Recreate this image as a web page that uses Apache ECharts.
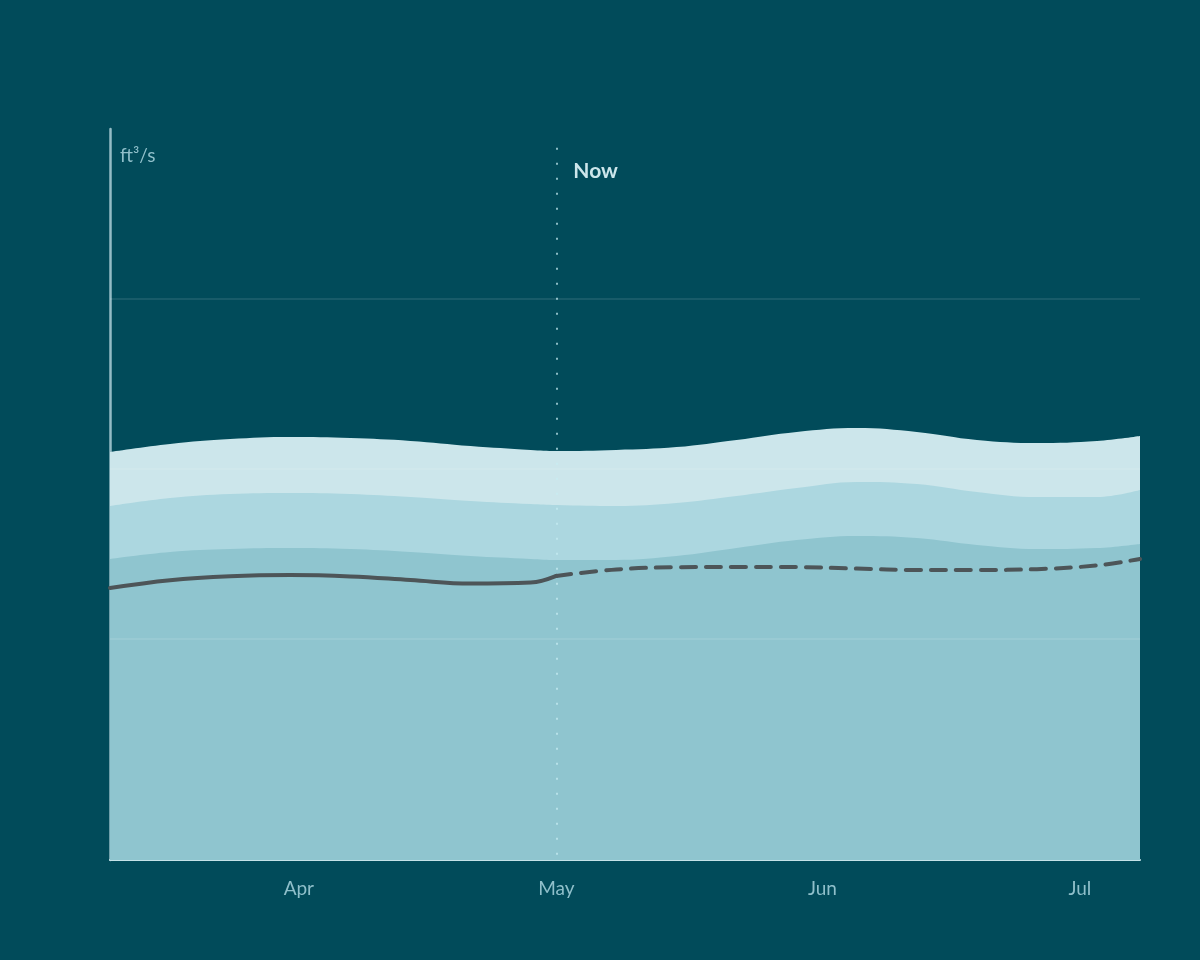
<!DOCTYPE html>
<html>
<head>
<meta charset="utf-8">
<style>
html,body{margin:0;padding:0;background:#014b5a;}
#chart{width:1200px;height:960px;}
</style>
<script src="https://cdn.jsdelivr.net/npm/echarts@6/dist/echarts.min.js"></script>
</head>
<body>
<div id="chart"></div>
<script>
// ---- data ----
const dates = ['2023-03-10','2023-03-17','2023-03-24','2023-03-31','2023-04-07','2023-04-14','2023-04-21','2023-04-28','2023-05-01','2023-05-08','2023-05-15','2023-05-22','2023-05-29','2023-06-05','2023-06-12','2023-06-19','2023-06-26','2023-07-03','2023-07-08'];
const upperBand = [310.0,314.7,317.6,318.8,318.2,316.5,313.5,311.2,310.6,311.2,312.9,317.1,321.8,324.1,321.8,317.1,315.3,316.5,319.4];
const middleBand = [278.2,282.9,285.3,285.9,285.3,283.5,281.2,279.4,278.8,278.2,280.0,284.1,288.8,292.4,291.2,286.5,283.5,283.5,287.6];
const lowerBand = [247.1,251.2,252.9,253.5,252.9,251.2,248.8,247.1,246.5,246.5,248.8,253.5,258.2,260.6,259.4,255.3,252.9,253.5,255.9];
const observedDates = ['2023-03-10','2023-03-17','2023-03-24','2023-03-31','2023-04-07','2023-04-14','2023-04-21','2023-04-28','2023-05-01'];
const observed = [230.0,234.6,236.9,237.6,236.8,234.7,232.6,233.2,237.1];
const forecastDates = ['2023-05-01','2023-05-08','2023-05-15','2023-05-22','2023-05-29','2023-06-05','2023-06-12','2023-06-19','2023-06-26','2023-07-03','2023-07-08'];
const forecast = [237.1,240.9,242.2,242.4,242.3,241.4,240.6,240.6,241.1,243.3,247.1];
const gridValues = [200, 300, 400];
const nowDate = '2023-05-01';
const monthNames = ['Jan','Feb','Mar','Apr','May','Jun','Jul','Aug','Sep','Oct','Nov','Dec'];

const pair = (xs, ys) => xs.map((d, i) => [d, ys[i]]);
const FONT = 'Lato, "Noto Sans", sans-serif';

const chart = echarts.init(document.getElementById('chart'), null, {renderer: 'canvas'});
const option = {
  backgroundColor: '#014b5a',
  animation: false,
  grid: {left: 110, right: 60, top: 129, bottom: 100},
  xAxis: {
    type: 'time',
    min: '2023-03-10',
    max: '2023-07-08',
    minInterval: 28 * 86400000,
    maxInterval: 31 * 86400000,
    axisLine: {show: true, lineStyle: {color: '#c5e2e8', width: 2}},
    axisTick: {show: false},
    splitLine: {show: false},
    axisLabel: {
      color: '#8fbfca', fontSize: 19, fontFamily: FONT, margin: 19,
      showMinLabel: false, showMaxLabel: false,
      formatter: function (v) { const d = new Date(v); return d.getDate() === 1 ? monthNames[d.getMonth()] : ''; }
    }
  },
  yAxis: {
    type: 'value',
    min: 70,
    max: 500,
    name: 'ft³/s',
    nameLocation: 'end',
    nameGap: -36,
    nameTextStyle: {color: '#8fbfca', fontSize: 19, fontFamily: FONT, align: 'left', padding: [0, 0, 0, 10]},
    axisLine: {show: true, lineStyle: {color: 'rgba(205,232,238,0.72)', width: 2.5}},
    axisTick: {show: false},
    axisLabel: {show: false},
    splitLine: {show: false}
  },
  series: [
    {
      name: 'upper', type: 'line', smooth: 0.4, symbol: 'none',
      data: pair(dates, upperBand),
      lineStyle: {width: 0},
      areaStyle: {color: '#cce6eb', opacity: 1, origin: 'start'},
      silent: true, z: 1
    },
    {
      name: 'middle', type: 'line', smooth: 0.4, symbol: 'none',
      data: pair(dates, middleBand),
      lineStyle: {width: 0},
      areaStyle: {color: '#acd7e0', opacity: 1, origin: 'start'},
      silent: true, z: 2
    },
    {
      name: 'lower', type: 'line', smooth: 0.4, symbol: 'none',
      data: pair(dates, lowerBand),
      lineStyle: {width: 0},
      areaStyle: {color: '#8fc5cf', opacity: 1, origin: 'start'},
      silent: true, z: 3,
      markLine: {
        silent: true, symbol: 'none', label: {show: false},
        lineStyle: {color: 'rgba(255,255,255,0.13)', width: 1.5, type: 'solid'},
        data: gridValues.map(v => ({yAxis: v}))
      }
    },
    {
      name: 'observed', type: 'line', smooth: 0.4, symbol: 'none',
      data: pair(observedDates, observed),
      lineStyle: {color: '#4d5558', width: 4, cap: 'round'},
      z: 5,
      markLine: {
        silent: true, symbol: 'none', label: {show: false},
        lineStyle: {color: 'rgba(200,236,242,0.7)', width: 2, type: [2, 13]},
        data: [[{coord: [nowDate, 489]}, {coord: [nowDate, 70]}]]
      },
      markPoint: {
        silent: true, symbol: 'circle', symbolSize: 0,
        data: [{coord: [nowDate, 475], value: 'Now'}],
        label: {show: true, position: 'right', distance: 17, formatter: 'Now', color: '#cce6eb', fontSize: 21, fontWeight: 'bold', fontFamily: FONT}
      }
    },
    {
      name: 'forecast', type: 'line', smooth: 0.4, symbol: 'none',
      data: pair(forecastDates, forecast),
      lineStyle: {color: '#4d5558', width: 4, type: [15, 10], cap: 'round'},
      z: 5
    }
  ]
};
chart.setOption(option);
</script>
</body>
</html>
